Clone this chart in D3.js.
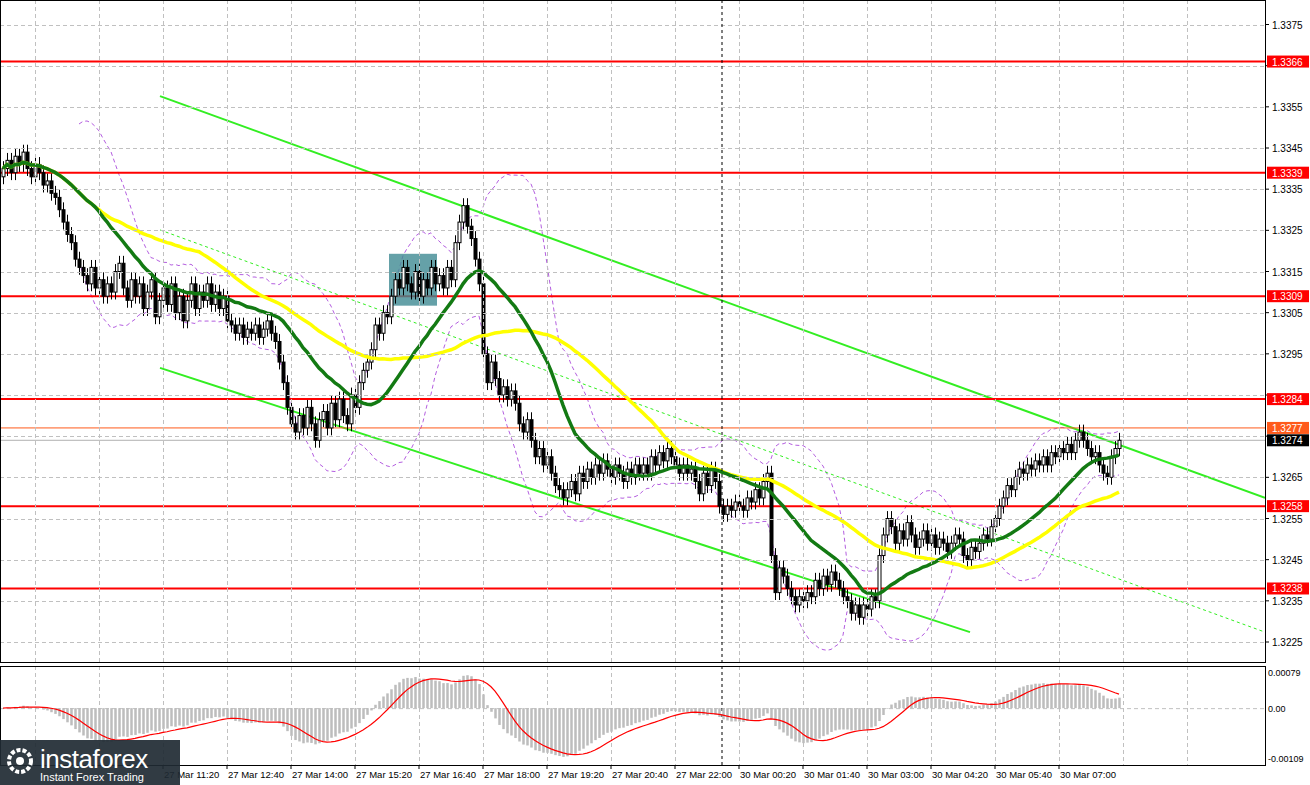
<!DOCTYPE html>
<html><head><meta charset="utf-8">
<script src="https://cdn.jsdelivr.net/npm/d3@7"></script>
<style>body{margin:0;background:#fff}svg{display:block;font-family:"Liberation Sans",Arial,sans-serif}</style>
</head><body><div id="chart"></div>
<script>
// 5-minute closes, 27 Mar 08:00 -> 30 Mar 08:15
const closes = [
1.3340,1.3342,1.3339,1.3343,1.3341,1.3344,1.3340,1.3338,1.3341,1.3339,
1.3336,1.3337,1.3334,1.3333,1.3330,1.3327,1.3324,1.3322,1.3318,1.3316,
1.3314,1.3312,1.3316,1.3311,1.3313,1.3309,1.3312,1.3310,1.3315,1.3317,
1.3311,1.3308,1.3313,1.3309,1.3312,1.3306,1.3310,1.3313,1.3304,1.3308,
1.3311,1.3307,1.3312,1.3305,1.3309,1.3303,1.3308,1.3312,1.3306,1.3310,
1.3308,1.3312,1.3307,1.3310,1.3306,1.3309,1.3303,1.3302,1.3300,1.3302,
1.3299,1.3301,1.3300,1.3302,1.3299,1.3301,1.3303,1.3300,1.3298,1.3293,
1.3288,1.3282,1.3278,1.3276,1.3280,1.3277,1.3282,1.3278,1.3274,1.3279,
1.3281,1.3277,1.3283,1.3279,1.3284,1.3280,1.3278,1.3285,1.3282,1.3288,
1.3291,1.3293,1.3296,1.3302,1.3300,1.3305,1.3304,1.3309,1.3313,1.3311,
1.3316,1.3312,1.3310,1.3315,1.3309,1.3313,1.3311,1.3316,1.3312,1.3314,
1.3311,1.3316,1.3313,1.3322,1.3327,1.3331,1.3326,1.3323,1.3318,1.3312,
1.3295,1.3288,1.3293,1.3289,1.3285,1.3287,1.3284,1.3286,1.3283,1.3278,
1.3276,1.3279,1.3274,1.3270,1.3272,1.3268,1.3270,1.3266,1.3263,1.3262,
1.3260,1.3262,1.3264,1.3261,1.3266,1.3264,1.3267,1.3265,1.3268,1.3266,
1.3269,1.3267,1.3265,1.3268,1.3266,1.3264,1.3267,1.3265,1.3268,1.3266,
1.3268,1.3266,1.3270,1.3268,1.3271,1.3269,1.3272,1.3270,1.3268,1.3266,
1.3268,1.3266,1.3267,1.3264,1.3261,1.3266,1.3263,1.3267,1.3264,1.3258,
1.3256,1.3258,1.3257,1.3259,1.3258,1.3257,1.3260,1.3259,1.3262,1.3260,
1.3264,1.3266,1.3246,1.3237,1.3243,1.3241,1.3238,1.3236,1.3234,1.3236,
1.3235,1.3237,1.3236,1.3240,1.3238,1.3241,1.3239,1.3242,1.3240,1.3238,
1.3236,1.3235,1.3232,1.3234,1.3231,1.3234,1.3233,1.3236,1.3235,1.3246,
1.3251,1.3255,1.3253,1.3249,1.3252,1.3250,1.3254,1.3251,1.3248,1.3250,
1.3252,1.3249,1.3251,1.3248,1.3250,1.3249,1.3247,1.3249,1.3251,1.3250,
1.3246,1.3245,1.3248,1.3247,1.3249,1.3251,1.3250,1.3253,1.3255,1.3258,
1.3260,1.3263,1.3262,1.3265,1.3267,1.3266,1.3268,1.3267,1.3269,1.3268,
1.3270,1.3268,1.3271,1.3270,1.3272,1.3271,1.3273,1.3271,1.3274,1.3276,
1.3274,1.3272,1.3270,1.3271,1.3268,1.3266,1.3265,1.3270,1.3272,1.3274
];
const firstOpen = 1.3338;
const timeLabels = ["27 Mar 11:20","27 Mar 12:40","27 Mar 14:00","27 Mar 15:20","27 Mar 16:40","27 Mar 18:00","27 Mar 19:20","27 Mar 20:40","27 Mar 22:00","30 Mar 00:20","30 Mar 01:40","30 Mar 03:00","30 Mar 04:20","30 Mar 05:40","30 Mar 07:00"];
const timeIdx = [40,56,72,88,104,120,136,152,168,184,200,216,232,248,264];
const dayBreak = 180;
const priceTicks = [1.3375,1.3365,1.3355,1.3345,1.3335,1.3325,1.3315,1.3305,1.3295,1.3285,1.3275,1.3265,1.3255,1.3245,1.3235,1.3225];
const levels = [1.3366,1.3339,1.3309,1.3284,1.3258,1.3238];
const askPrice = 1.3277, bidPrice = 1.3274;
const upperChannel = [[39.25,1.33576],[315.5,1.32600]];
const lowerChannel = [[39.25,1.32916],[241.75,1.32274]];
const midChannel = [[39.25,1.33251],[315.5,1.32274]];
const box = {i0:96.5,i1:108.5,p0:1.33193,p1:1.33067};
const macdTicks = [0.00079,0,-0.00109];

const W=1310,H=785,plotR=1265,mainB=662,macdT=666,macdB=765;
const svg=d3.select("#chart").append("svg").attr("width",W).attr("height",H);
const x=d3.scaleLinear().domain([0,1]).range([3,7]);
const y=d3.scaleLinear().domain([1.3375,1.3225]).range([24.5,642]);
const ym=d3.scaleLinear().domain([0.00079,-0.00109]).range([672,758]);

svg.append("clipPath").attr("id","cm").append("rect").attr("x",0).attr("y",0).attr("width",plotR).attr("height",mainB);
const gm=svg.append("g").attr("clip-path","url(#cm)");

// grid
const grid=svg.append("g").attr("stroke","#c0c0c0").attr("stroke-dasharray","4,3");
d3.range(8,300,16).forEach(i=>{const xx=Math.round(x(i))+0.5;if(xx<plotR){grid.append("line").attr("x1",xx).attr("x2",xx).attr("y1",0).attr("y2",mainB);grid.append("line").attr("x1",xx).attr("x2",xx).attr("y1",macdT).attr("y2",macdB);}});
priceTicks.forEach(p=>grid.append("line").attr("x1",0).attr("x2",plotR).attr("y1",Math.round(y(p))+0.5).attr("y2",Math.round(y(p))+0.5));
grid.append("line").attr("x1",0).attr("x2",plotR).attr("y1",ym(0)+0.5).attr("y2",ym(0)+0.5);
svg.append("line").attr("x1",x(dayBreak)-1).attr("x2",x(dayBreak)-1).attr("y1",0).attr("y2",macdB).attr("stroke","#000").attr("stroke-dasharray","3,3");

// indicators
const sma=(a,n)=>a.map((v,i)=>d3.mean(a.slice(Math.max(0,i-n+1),i+1)));
const ema=(a,n)=>{const k=2/(n+1);let e=a[0];return a.map(v=>e=v*k+e*(1-k));};
const fast=sma(closes,24), slow=sma(closes,50);
const bbMid=closes.map((v,i)=>i<19?null:d3.mean(closes.slice(i-19,i+1)));
const bbDev=closes.map((v,i)=>i<19?null:d3.deviation(closes.slice(i-19,i+1))*Math.sqrt(19/20));
const line=d3.line().defined(d=>d[1]!=null).x(d=>x(d[0])).y(d=>y(d[1]));
const bbUp=bbMid.map((m,i)=>[i,m==null?null:m+2*bbDev[i]]);
const bbLo=bbMid.map((m,i)=>[i,m==null?null:m-2*bbDev[i]]);
[bbUp,bbLo].forEach(d=>gm.append("path").attr("d",line(d)).attr("fill","none").attr("stroke","#b45ee0").attr("stroke-width",1).attr("stroke-dasharray","4,3"));

// channel lines
gm.append("path").attr("d",line(upperChannel)).attr("stroke","#33ee22").attr("stroke-width",2);
gm.append("path").attr("d",line(lowerChannel)).attr("stroke","#33ee22").attr("stroke-width",2);
gm.append("path").attr("d",line(midChannel)).attr("stroke","#33ee22").attr("stroke-width",1).attr("stroke-dasharray","3,3");

// levels
levels.forEach(p=>gm.append("line").attr("x1",0).attr("x2",plotR).attr("y1",y(p)).attr("y2",y(p)).attr("stroke","#ff0000").attr("stroke-width",2));
gm.append("line").attr("x1",0).attr("x2",plotR).attr("y1",y(askPrice)).attr("y2",y(askPrice)).attr("stroke","#ff5a1a").attr("stroke-width",1);
gm.append("line").attr("x1",0).attr("x2",plotR).attr("y1",y(bidPrice)).attr("y2",y(bidPrice)).attr("stroke","#b0b0b0").attr("stroke-width",1);

// box
gm.append("rect").attr("x",x(box.i0)).attr("y",y(box.p0)).attr("width",x(box.i1)-x(box.i0)).attr("height",y(box.p1)-y(box.p0)).attr("fill","#3f8a92").attr("opacity",0.8);

// candles
const wick=0.00018;
closes.forEach((c,i)=>{
  const o=i?closes[i-1]:firstOpen, hi=Math.max(o,c)+wick, lo=Math.min(o,c)-wick, xx=Math.round(x(i))+0.5;
  gm.append("line").attr("x1",xx).attr("x2",xx).attr("y1",y(hi)).attr("y2",y(lo)).attr("stroke","#000");
  const t=Math.min(y(o),y(c)),h=Math.max(1,Math.abs(y(o)-y(c)));
  gm.append("rect").attr("x",xx-1.5).attr("y",t).attr("width",3).attr("height",h).attr("fill",c>=o?"#fff":"#000").attr("stroke","#000").attr("stroke-width",1);
});

gm.append("path").attr("d",line(slow.map((v,i)=>[i,v]))).attr("fill","none").attr("stroke","#ffff00").attr("stroke-width",3.5);
gm.append("path").attr("d",line(fast.map((v,i)=>[i,v]))).attr("fill","none").attr("stroke","#137a13").attr("stroke-width",3.5);

// MACD
const e12=ema(closes,12),e26=ema(closes,26);
const macd=e12.map((v,i)=>v-e26[i]);
const signal=sma(macd,9);
const gd=svg.append("g");
macd.forEach((m,i)=>{const xx=Math.round(x(i))+0.5;gd.append("line").attr("x1",xx).attr("x2",xx).attr("y1",ym(0)).attr("y2",ym(m)).attr("stroke","#bdbdbd").attr("stroke-width",2.5);});
gd.append("path").attr("d",d3.line().x(d=>x(d[0])).y(d=>ym(d[1]))(signal.map((v,i)=>[i,v]))).attr("fill","none").attr("stroke","#ff0000").attr("stroke-width",1.2);

// frames
svg.append("rect").attr("x",0.5).attr("y",0.5).attr("width",plotR).attr("height",mainB).attr("fill","none").attr("stroke","#000");
svg.append("rect").attr("x",0.5).attr("y",macdT+0.5).attr("width",plotR).attr("height",macdB-macdT).attr("fill","none").attr("stroke","#000");

// right price axis
const ax=svg.append("g").attr("font-size",10).attr("fill","#000");
const tagged=levels.concat([askPrice,bidPrice]);
priceTicks.forEach(p=>{
  ax.append("line").attr("x1",plotR).attr("x2",plotR+4).attr("y1",y(p)).attr("y2",y(p)).attr("stroke","#000");
  if(tagged.some(t=>Math.abs(y(t)-y(p))<10)&&!tagged.some(t=>Math.abs(y(t)-y(p))>=10&&false)){
    if(tagged.some(t=>Math.abs(y(t)-y(p))<8)) return;
  }
  ax.append("text").attr("x",plotR+7).attr("y",y(p)+4).text(p.toFixed(4));
});
macdTicks.forEach(m=>ax.append("text").attr("x",plotR+3).attr("y",ym(m)+4).attr("font-size",9).text(m===0?"0.00":m.toFixed(5)));
const tag=(p,bg,fg)=>{ax.append("rect").attr("x",plotR+2).attr("y",y(p)-6).attr("width",42).attr("height",12).attr("fill",bg);ax.append("text").attr("x",plotR+7).attr("y",y(p)+4).attr("fill",fg).text(p.toFixed(4));};
levels.forEach(p=>tag(p,"#ff0000","#fff"));
tag(askPrice,"#ff5a1a","#fff");tag(bidPrice,"#000","#fff");

// time axis
timeLabels.forEach((t,k)=>{const xx=x(timeIdx[k]);svg.append("line").attr("x1",xx).attr("x2",xx).attr("y1",macdB).attr("y2",macdB+4).attr("stroke","#000");svg.append("text").attr("x",xx+1).attr("y",778).attr("font-size",9.5).text(t);});

// logo
const lg=svg.append("g");
lg.append("rect").attr("x",0).attr("y",740).attr("width",180).attr("height",45).attr("fill","#1f2a33").attr("opacity",0.92);
lg.append("circle").attr("cx",20).attr("cy",761).attr("r",11).attr("fill","none").attr("stroke","#fff").attr("stroke-width",4).attr("stroke-dasharray","4,2");
lg.append("circle").attr("cx",20).attr("cy",761).attr("r",4).attr("fill","#fff");
lg.append("text").attr("x",40).attr("y",768).attr("fill","#fff").attr("font-size",26).attr("letter-spacing",-0.5).text("instaforex");
lg.append("text").attr("x",40).attr("y",781).attr("fill","#fff").attr("font-size",11).text("Instant Forex Trading");
</script></body></html>
